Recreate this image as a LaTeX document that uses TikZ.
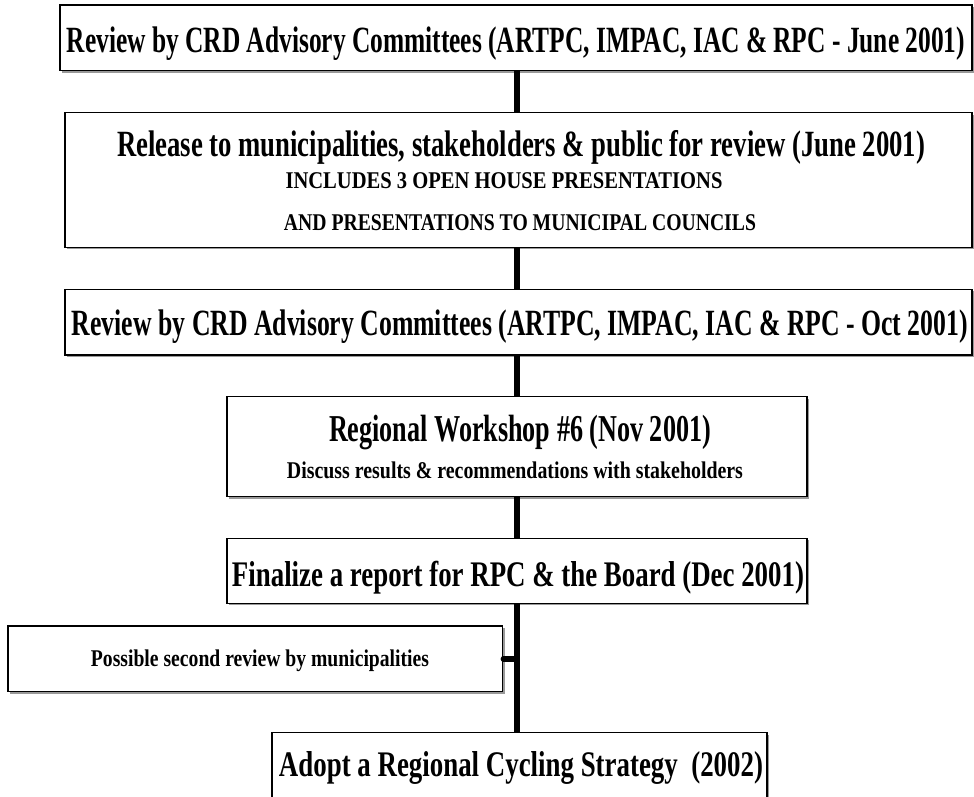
\documentclass[tikz,border=0pt]{standalone}
\usepackage{fontspec}
\setmainfont{Liberation Serif}
\usepackage{graphicx}
\newcommand{\sqz}[3]{{\fontsize{#2}{#2}\selectfont\bfseries\resizebox{#1}{\height}{#3}}}
\tikzset{
  box/.style={draw, line width=1.3pt, inner sep=0pt, fill=white},
  txt/.style={inner sep=0pt, anchor=base},
  trunk/.style={line width=5.5pt}
}
\begin{document}
\begin{tikzpicture}[x=1pt,y=1pt]
\useasboundingbox (0,0) rectangle (974,-796);
\coordinate (tx) at (517,0);
% shadows
\foreach \a/\b/\c/\d in {60/-5/972/-70.7, 65/-112.7/972/-247.3, 65/-289.3/972/-355, 227/-396.7/807/-496.7, 227/-538.3/807/-603.3, 8/-626/502.7/-691.7, 272/-732.7/767/-840}
  \fill[black!40] (\a+1.8,\b-1.8) rectangle (\c+1.8,\d-1.8);
% boxes
\node[box, minimum width=912, minimum height=65.7] (b1) at (516,-37.85) {};
\node[box, minimum width=907, minimum height=134.6] (b2) at (518.5,-180) {};
\node[box, minimum width=907, minimum height=65.7] (b3) at (518.5,-322.15) {};
\node[box, minimum width=580, minimum height=100] (b4) at (517,-446.7) {};
\node[box, minimum width=580, minimum height=65] (b5) at (517,-570.8) {};
\node[box, minimum width=494.7, minimum height=65.7] (b6) at (255.35,-658.85) {};
\node[box, minimum width=495, minimum height=107.3] (b7) at (519.5,-786.35) {};
% connectors
\draw[trunk] (b1.south -| tx) -- (b2.north -| tx);
\draw[trunk] (b2.south -| tx) -- (b3.north -| tx);
\draw[trunk] (b3.south -| tx) -- (b4.north -| tx);
\draw[trunk] (b4.south -| tx) -- (b5.north -| tx);
\draw[trunk] (b5.south -| tx) -- (b7.north -| tx);
\draw[line width=5.5pt, line cap=round] (b6.east) -- (b6.east -| tx);
% texts
\node[txt] (t1) at (516,-52) {\sqz{898pt}{37pt}{Review by CRD Advisory Committees (ARTPC, IMPAC, IAC \& RPC - June 2001)}};
\node[txt] (t2a) at (521,-156.7) {\sqz{808pt}{37pt}{Release to municipalities, stakeholders \& public for review (June 2001)}};
\node[txt] (t2b) at (504,-188.3) {\sqz{437pt}{24pt}{INCLUDES 3 OPEN HOUSE PRESENTATIONS}};
\node[txt] (t2c) at (520,-230) {\sqz{472pt}{24pt}{AND PRESENTATIONS TO MUNICIPAL COUNCILS}};
\node[txt] (t3) at (520,-335) {\sqz{896pt}{37pt}{Review by CRD Advisory Committees (ARTPC, IMPAC, IAC \& RPC - Oct 2001)}};
\node[txt] (t4a) at (520,-441.7) {\sqz{382pt}{38pt}{Regional Workshop \#6 (Nov 2001)}};
\node[txt] (t4b) at (515,-478.3) {\sqz{456pt}{24pt}{Discuss results \& recommendations with stakeholders}};
\node[txt] (t5) at (518,-586.7) {\sqz{572pt}{36pt}{Finalize a report for RPC \& the Board (Dec 2001)}};
\node[txt] (t6) at (260,-666) {\sqz{338pt}{24pt}{Possible second review by municipalities}};
\node[txt] (t7) at (521,-776) {\sqz{484pt}{36pt}{Adopt a Regional Cycling Strategy\ \ (2002)}};
\end{tikzpicture}
\end{document}
